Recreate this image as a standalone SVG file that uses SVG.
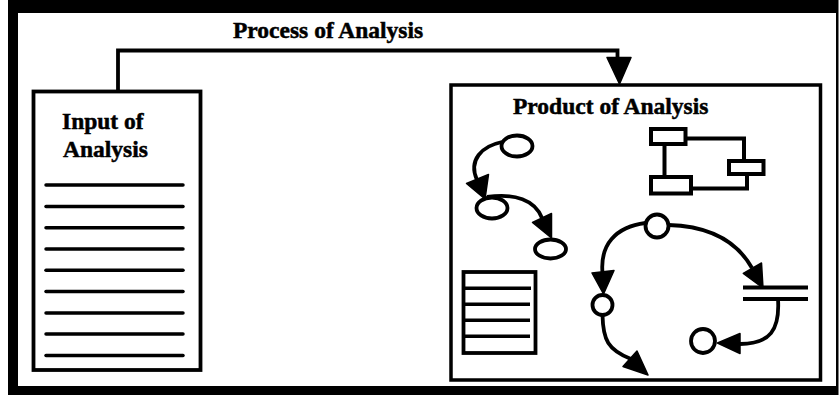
<svg xmlns="http://www.w3.org/2000/svg" width="840" height="395" viewBox="0 0 840 395">
<style>
.t{font-family:"Liberation Serif","Times New Roman",serif;font-weight:bold;font-size:23.5px;fill:#000;stroke:#000;stroke-width:0.5}
.s{fill:none;stroke:#000;stroke-width:3.8}
.w{fill:#fff;stroke:#000;stroke-width:3.8}
.ln{stroke:#000;stroke-width:3.5;stroke-linecap:round}
.a{fill:#000;stroke:#000;stroke-width:1.5;stroke-linejoin:round}
</style>
<rect x="0" y="0" width="840" height="395" fill="#fff"/>
<rect x="8" y="0" width="830.5" height="395" fill="#000"/>
<rect x="18" y="13" width="818" height="373" fill="#fff"/>
<g id="connectors">
<path class="s" d="M118,91 V50.5 H617.5 V60"/>
<polygon class="a" points="607,57.5 631,57.5 619.5,84"/>
</g>
<g id="process-label"><text class="t" x="233" y="37.5">Process of Analysis</text></g>
<g id="input">
<rect class="w" x="33.5" y="91.5" width="167" height="278.5"/>
<text class="t" x="62" y="129">Input of</text>
<text class="t" x="63" y="157">Analysis</text>
<g class="ln">
<line x1="46" y1="185" x2="183" y2="185"/>
<line x1="46" y1="206.5" x2="183" y2="206.5"/>
<line x1="46" y1="227.8" x2="183" y2="227.8"/>
<line x1="46" y1="249" x2="183" y2="249"/>
<line x1="46" y1="270.3" x2="183" y2="270.3"/>
<line x1="46" y1="291.6" x2="183" y2="291.6"/>
<line x1="46" y1="313" x2="183" y2="313"/>
<line x1="46" y1="334" x2="183" y2="334"/>
<line x1="46" y1="355.5" x2="183" y2="355.5"/>
</g>
</g>
<g id="product">
<rect class="w" x="451" y="85" width="369.5" height="295" style="stroke-width:3.5"/>
<text class="t" x="513" y="113.5">Product of Analysis</text>
<g id="flow-small">
<ellipse class="s" cx="517" cy="146" rx="15.5" ry="10.5"/>
<ellipse class="s" cx="492" cy="208" rx="15.5" ry="10.5"/>
<ellipse class="s" cx="550.5" cy="249" rx="15.5" ry="9.5"/>
<path class="s" d="M502,142 C482,146 468,160 477,180"/>
<polygon class="a" points="466.5,183.5 488.5,174.5 485,199"/>
<path class="s" d="M487,197 C515,193 535,200 542,218"/>
<polygon class="a" points="532.5,222.5 551.5,213.5 551.5,238"/>
</g>
<g id="blocks" class="s" style="stroke-width:4">
<rect x="651" y="129" width="34.5" height="15"/>
<rect x="729" y="161" width="34.5" height="13"/>
<rect x="651" y="177" width="40" height="16.5"/>
<path d="M685.5,138.5 H744 V161"/>
<path d="M664.5,144 V177"/>
<path d="M691,188.5 H747 V174"/>
</g>
<g id="text-box">
<rect class="w" x="463.5" y="272" width="72" height="81"/>
<g stroke="#000" stroke-width="3.5">
<line x1="464" y1="288.3" x2="531" y2="288.3"/>
<line x1="464" y1="304.3" x2="530" y2="304.3"/>
<line x1="464" y1="320.3" x2="530" y2="320.3"/>
<line x1="464" y1="336.3" x2="530" y2="336.3"/>
</g>
</g>
<g id="flow-large">
<circle class="w" cx="657" cy="226" r="11.5"/>
<circle class="w" cx="602.5" cy="305" r="10"/>
<circle class="w" cx="703" cy="341" r="12"/>
<path class="s" d="M645.5,223 C615,227 600,245 602.5,273"/>
<polygon class="a" points="592,273 614,270.5 603.5,294"/>
<path class="s" d="M602.5,315 C603,340 608,350 631,359"/>
<polygon class="a" points="623,366.5 637,351 648,375"/>
<path class="s" d="M668.5,225 C705,226 735,238 752,268"/>
<polygon class="a" points="743.3,273.5 761.5,263 763,288"/>
<g stroke="#000" stroke-width="3.8">
<line x1="743" y1="287.5" x2="808" y2="287.5"/>
<line x1="743" y1="299" x2="808" y2="299"/>
</g>
<path class="s" d="M778,299 C780,330 770,344 740,344"/>
<polygon class="a" points="740,333.5 740,353.5 717.5,343"/>
</g>
</g>
</svg>
